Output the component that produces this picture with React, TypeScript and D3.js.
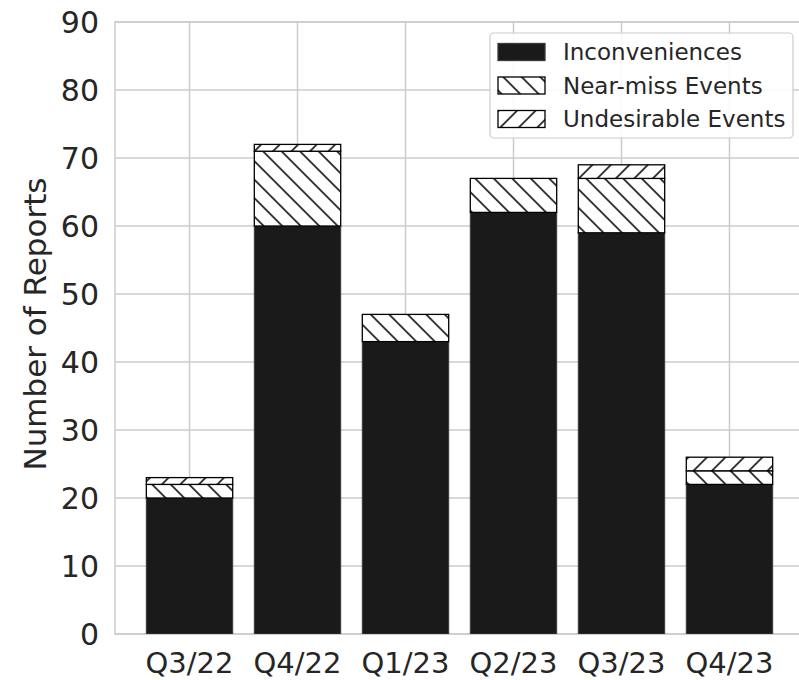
import React from "react";
import * as d3 from "d3";

const categories = ["Q3/22", "Q4/22", "Q1/23", "Q2/23", "Q3/23", "Q4/23"];
const inconveniences = [20, 60, 43, 62, 59, 22];
const nearMiss = [2, 11, 4, 5, 8, 2];
const undesirable = [1, 1, 0, 0, 2, 2];
const yTicks = [0, 10, 20, 30, 40, 50, 60, 70, 80, 90];
const seriesNames = ["Inconveniences", "Near-miss Events", "Undesirable Events"];

const W = 799;
const H = 680;
const left = 115;
const right = 804;
const top = 22;
const bottom = 634;
const font = "DejaVu Sans, sans-serif";
const textColor = "#262626";
const gridColor = "#cccccc";
const hatchPeriod = 18.5;

export default function App() {
  const x = d3.scaleLinear().domain([-0.69, categories.length - 1 + 0.69]).range([left, right]);
  const y = d3.scaleLinear().domain([0, 90]).range([bottom, top]);
  const bw = (x(1) - x(0)) * 0.8;
  const step = hatchPeriod / Math.SQRT2;

  const segs = categories.map((c, i) => {
    const a = inconveniences[i];
    const b = a + nearMiss[i];
    const u = b + undesirable[i];
    return { c, i, a, b, u };
  });

  return (
    <div style={{ position: "absolute", left: 0, top: 0 }}>
      <svg width={W} height={H} style={{ display: "block", background: "#fff" }}>
        <defs>
          <pattern id="hBack" patternUnits="userSpaceOnUse" width={step} height={step} patternTransform="translate(10,0) rotate(-45)">
            <rect width={step} height={step} fill="#fff" />
            <line x1={step / 2} y1={-1} x2={step / 2} y2={step + 1} stroke="#000" strokeWidth={1.5} />
          </pattern>
          <pattern id="hFwd" patternUnits="userSpaceOnUse" width={step} height={step} patternTransform="translate(8,0) rotate(45)">
            <rect width={step} height={step} fill="#fff" />
            <line x1={step / 2} y1={-1} x2={step / 2} y2={step + 1} stroke="#000" strokeWidth={1.5} />
          </pattern>
          <clipPath id="plotClip">
            <rect x={left} y={top} width={right - left} height={bottom - top} />
          </clipPath>
        </defs>
        <rect x={0} y={0} width={W} height={H} fill="#fff" />
        {yTicks.map((t) => (
          <line key={"gy" + t} x1={left} x2={right} y1={y(t)} y2={y(t)} stroke={gridColor} strokeWidth={1.5} />
        ))}
        {categories.map((c, i) => (
          <line key={"gx" + c} x1={x(i)} x2={x(i)} y1={top} y2={bottom} stroke={gridColor} strokeWidth={1.5} />
        ))}
        <rect x={left} y={top} width={right - left} height={bottom - top} fill="none" stroke={gridColor} strokeWidth={1.5} />
        <g clipPath="url(#plotClip)">
          {segs.map((s) => (
            <g key={s.c}>
              <rect x={x(s.i) - bw / 2} y={y(s.a)} width={bw} height={y(0) - y(s.a)} fill="#1a1a1a" stroke="#3a3a3a" strokeWidth={1} />
              {s.b > s.a && (
                <rect x={x(s.i) - bw / 2} y={y(s.b)} width={bw} height={y(s.a) - y(s.b)} fill="url(#hBack)" stroke="#000" strokeWidth={1.3} />
              )}
              {s.u > s.b && (
                <rect x={x(s.i) - bw / 2} y={y(s.u)} width={bw} height={y(s.b) - y(s.u)} fill="url(#hFwd)" stroke="#000" strokeWidth={1.3} />
              )}
            </g>
          ))}
        </g>
        {yTicks.map((t) => (
          <text key={"ty" + t} x={left - 16} y={y(t)} textAnchor="end" dominantBaseline="central" fontFamily={font} fontSize={30} fill={textColor}>
            {t}
          </text>
        ))}
        {categories.map((c, i) => (
          <text key={"tx" + c} x={x(i)} y={663} textAnchor="middle" dominantBaseline="central" fontFamily={font} fontSize={29} fill={textColor}>
            {c}
          </text>
        ))}
        <text transform={`translate(35,${(top + bottom) / 2 - 4}) rotate(-90)`} textAnchor="middle" dominantBaseline="central" fontFamily={font} fontSize={31} fill={textColor}>
          Number of Reports
        </text>
        <g>
          <rect x={490} y={33} width={303} height={105} rx={4} fill="#fff" fillOpacity={0.85} stroke={gridColor} strokeWidth={1.2} />
          {seriesNames.map((n, k) => {
            const cy = 52 + k * 33.5;
            const fill = k === 0 ? "#1a1a1a" : k === 1 ? "url(#hBack)" : "url(#hFwd)";
            return (
              <g key={n}>
                <rect x={498} y={cy - 8.5} width={47} height={17} fill={fill} stroke={k === 0 ? "#3a3a3a" : "#000"} strokeWidth={1.3} />
                <text x={563} y={cy} dominantBaseline="central" fontFamily={font} fontSize={23} fill={textColor}>
                  {n}
                </text>
              </g>
            );
          })}
        </g>
      </svg>
    </div>
  );
}
